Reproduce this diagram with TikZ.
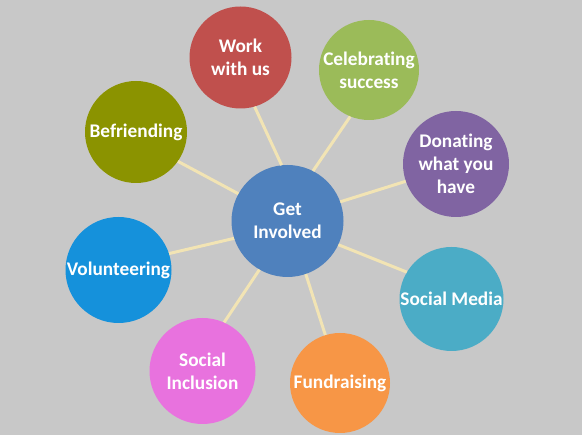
\documentclass[tikz,border=0pt]{standalone}
\usepackage{fontspec}
\setmainfont{Carlito}[Ligatures=NoCommon]
\definecolor{bgc}{HTML}{C8C8C8}
\definecolor{conncol}{HTML}{F2E4B4}
\definecolor{hubcol}{HTML}{4F81BD}
\definecolor{workcol}{HTML}{C0504D}
\definecolor{celcol}{HTML}{9BBB59}
\definecolor{doncol}{HTML}{8064A2}
\definecolor{smcol}{HTML}{4BACC6}
\definecolor{fundcol}{HTML}{F79646}
\definecolor{sicol}{HTML}{E872DE}
\definecolor{volcol}{HTML}{1591DB}
\definecolor{befcol}{HTML}{8B9300}
\tikzset{
  bubble/.style={circle, inner sep=0pt, minimum size=105pt, fill=#1},
  txt/.style={text=white, font=\fontsize{19.3}{23}\selectfont\bfseries, align=center, inner sep=0pt},
  conn/.style={draw=conncol, line width=3pt}
}
\begin{document}
\begin{tikzpicture}[x=1pt,y=-1pt]
\fill[bgc] (0,0) rectangle (582,435);
\useasboundingbox (0,0) rectangle (582,435);
\node[bubble=hubcol, minimum size=112pt, label={[txt]center:Get\\Involved}] (hub) at (287.5,221) {};
\node[bubble=workcol, minimum size=102pt, label={[txt]center:Work\\with us}] (work) at (240.5,57.5) {};
\node[bubble=celcol, minimum size=100pt, label={[txt]center:Celebrating\\success}] (cel) at (369,70) {};
\node[bubble=befcol, minimum size=102pt, label={[txt]center:Befriending}] (bef) at (136,132) {};
\node[bubble=doncol, minimum size=106pt, label={[txt]center:Donating\\what you\\have}] (don) at (456,164) {};
\node[bubble=smcol, minimum size=104pt, label={[txt]center:Social Media}] (sm) at (451.5,299) {};
\node[bubble=volcol, minimum size=106pt, label={[txt]center:Volunteering}] (vol) at (118.5,270) {};
\node[bubble=sicol, minimum size=106pt, label={[txt]center:Social\\Inclusion}] (si) at (202.5,371) {};
\node[bubble=fundcol, minimum size=100pt, label={[txt]center:Fundraising}] (fund) at (340,383) {};
\draw[conn] (work.-74) -- (hub.96);
\draw[conn] (cel.248) -- (hub.63);
\draw[conn] (bef.-35) -- (hub.151);
\draw[conn] (don.199) -- (hub.20);
\draw[conn] (hub.-25) -- (sm.149);
\draw[conn] (vol.18) -- (hub.-162.5);
\draw[conn] (hub.-120) -- (si.66.6);
\draw[conn] (hub.-71.6) -- (fund.107);
\end{tikzpicture}
\end{document}
